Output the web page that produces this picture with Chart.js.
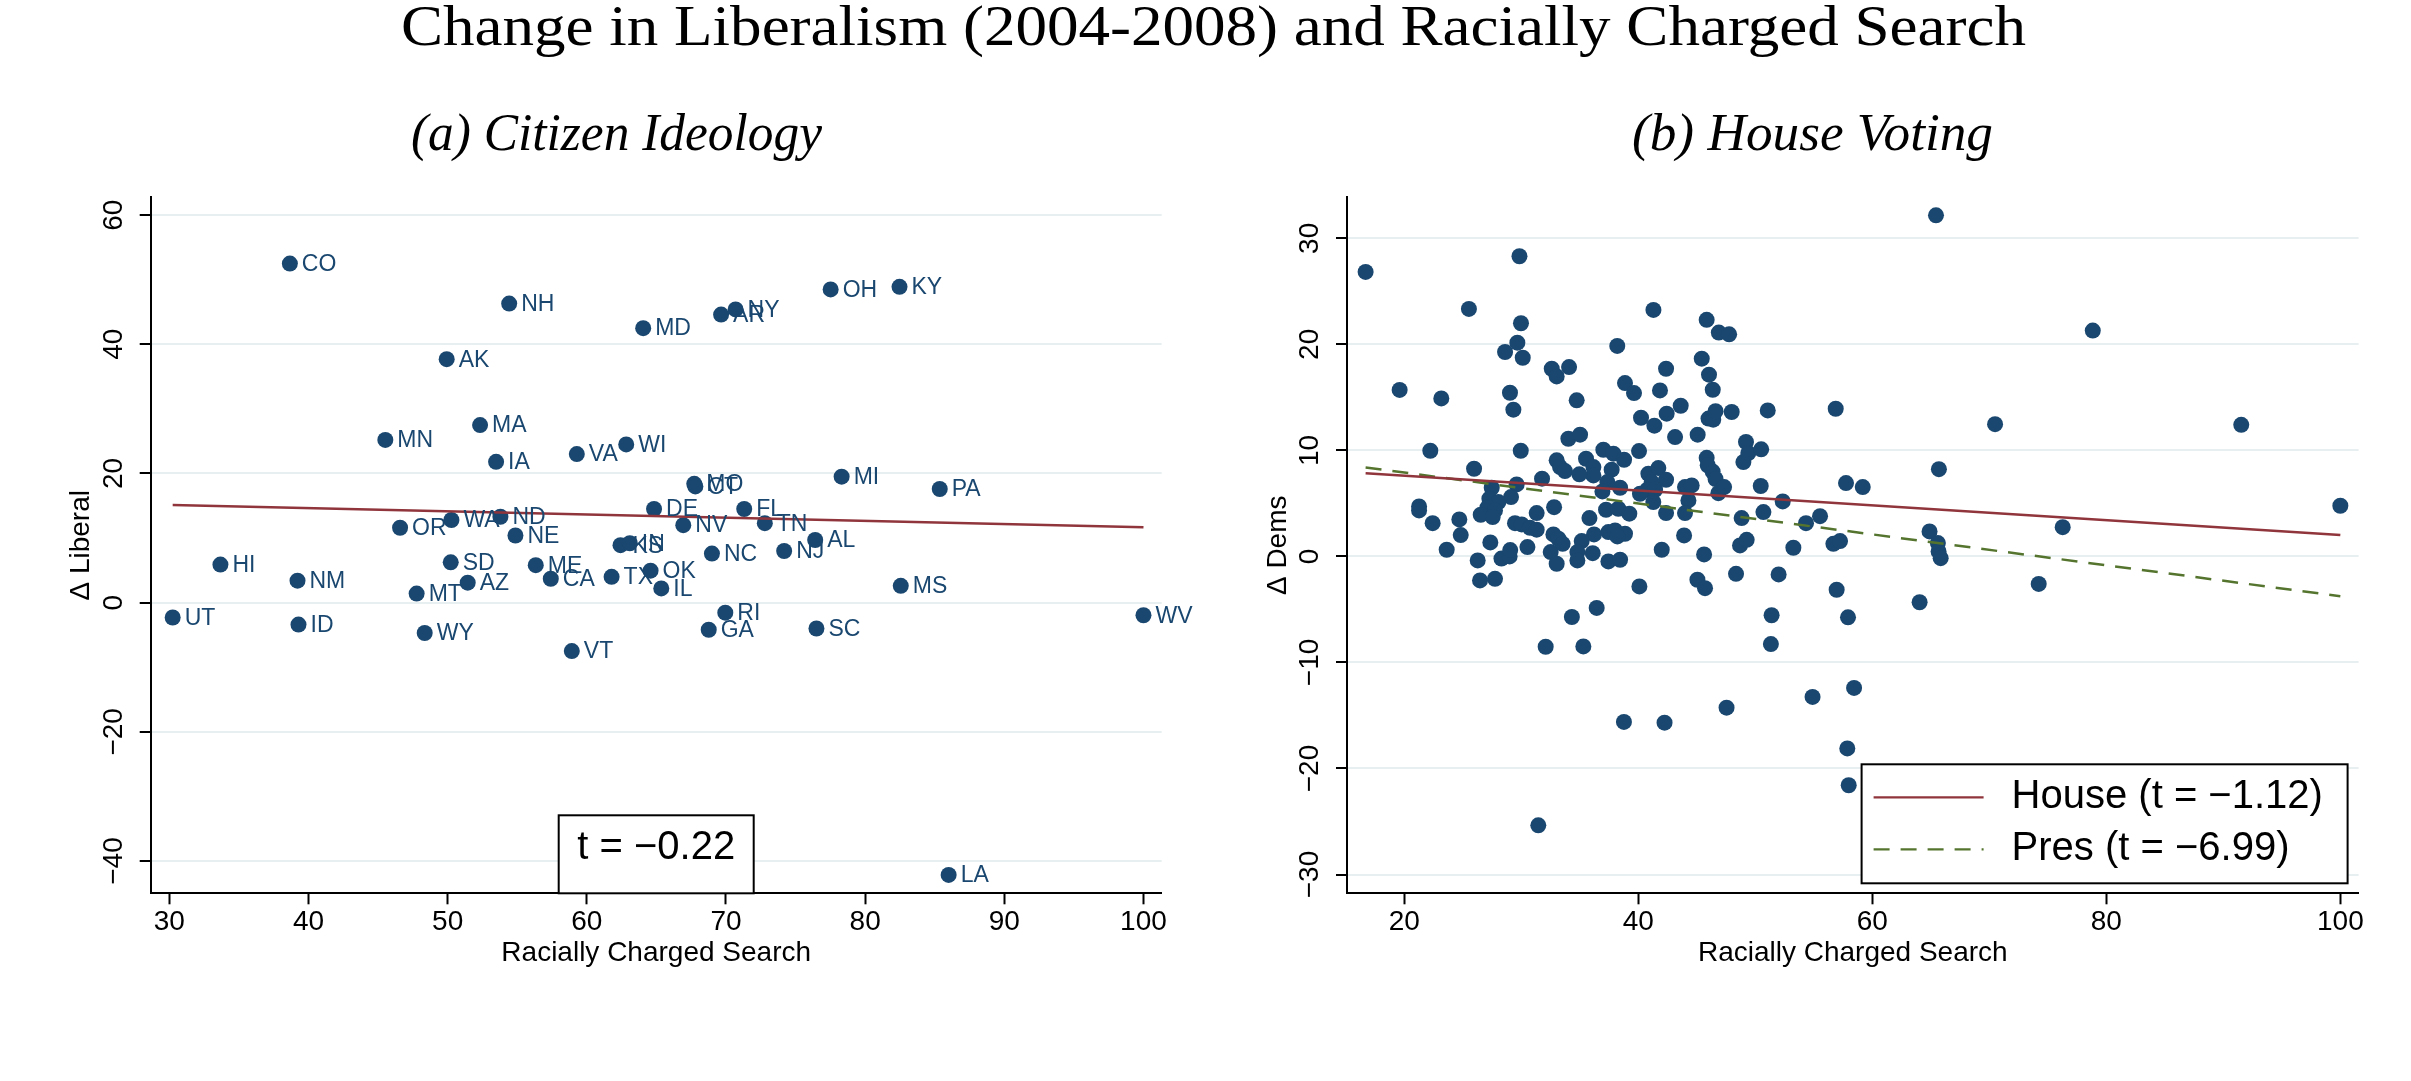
<!DOCTYPE html>
<html><head><meta charset="utf-8">
<script src="https://cdn.jsdelivr.net/npm/chart.js@4.4.1/dist/chart.umd.min.js"></script>
<style>
html,body{margin:0;padding:0;background:#fff;}
#wrap{position:relative;width:2411px;height:1081px;overflow:hidden;background:#fff;}
canvas{position:absolute;top:0;}
.ttl{position:absolute;white-space:nowrap;font-family:"Liberation Serif","DejaVu Serif",serif;color:#000;line-height:1;transform-origin:0 0;}
</style></head><body>
<div id="wrap">
<canvas id="cL" style="left:0;width:1205px;height:1081px" width="1205" height="1081"></canvas>
<canvas id="cR" style="left:1205px;width:1206px;height:1081px" width="1206" height="1081"></canvas>
<div class="ttl" id="tMain">Change in Liberalism (2004-2008) and Racially Charged Search</div>
<div class="ttl" id="tA" style="font-style:italic">(a) Citizen Ideology</div>
<div class="ttl" id="tB" style="font-style:italic">(b) House Voting</div>
</div>
<script>
// ---------------- DATA ----------------
// Panel (a): states
const stateLabels = ['CO','NH','MD','AK','MA','MN','IA','VA','WI','OR','WA','ND','NE','KS','IN','AR','NY','OH','KY','MO','CT','DE','FL','NV','TN','MI','PA','AL','NC','NJ','HI','NM','SD','ME','CA','TX','AZ','MT','UT','ID','WY','VT','OK','IL','RI','GA','SC','MS','WV','LA'];
const stateSearch = [38.66,54.42,64.05,49.93,52.33,45.52,53.48,59.28,62.83,46.58,50.27,53.79,54.87,62.42,63.09,69.65,70.69,77.52,82.47,67.72,67.8,64.83,71.31,66.93,72.79,78.31,85.36,76.41,68.99,74.18,33.67,39.21,50.22,56.33,57.41,61.78,51.44,47.77,30.24,39.28,48.35,58.92,64.58,65.35,69.95,68.76,76.5,82.56,100,86.0];
const stateLiberal = [52.5,46.3,42.5,37.7,27.5,25.2,21.8,23.0,24.5,11.6,12.8,13.3,10.4,8.9,9.2,44.6,45.4,48.5,48.9,18.4,18.0,14.5,14.5,12.0,12.3,19.5,17.6,9.7,7.6,8.0,5.9,3.4,6.25,5.8,3.7,4.0,3.1,1.4,-2.3,-3.4,-4.7,-7.5,4.95,2.2,-1.55,-4.2,-4.0,2.6,-1.95,-42.15];
const leftFitX = [30.24, 100];
const leftFitY = [15.12, 11.67];
const leftXTicks = [30,40,50,60,70,80,90,100];
const leftYTicks = [-40,-20,0,20,40,60];
const leftTText = 't = \u22120.22';

// Panel (b): districts
const distSearch = [16.69,19.6,25.52,29.84,29.97,41.29,45.84,46.88,47.76,38.2,
65.44,78.84,70.49,91.53,65.69,64.89,65.6,65.66,65.84,76.27,100.0,
36.44,34.32,51.39,32.08,35.3,51.33,38.77,42.24,47.54,54.89,31.45,
57.92,64.04,74.22,58.44,57.86,57.98,
29.66,28.61,30.12,32.6,33.02,23.16,29.03,29.32,22.22,29.95,25.96,33.02,33.31,33.73,31.77,29.6,27.47,29.12,32.8,31.31,21.26,21.26,22.42,24.7,24.82,23.62,27.27,28.04,27.1,27.75,26.53,27.55,29.46,30.03,30.74,31.31,27.35,26.27,26.47,27.75,28.3,29.0,29.05,30.52,32.74,33.17,32.51,33.02,
34.08,34.73,38.86,39.63,42.37,41.85,45.42,46.04,46.36,40.23,41.37,42.42,43.62,43.14,45.07,46.0,46.4,46.6,34.02,35.02,37.01,37.87,38.78,40.06,35.53,36.16,36.16,34.96,37.72,37.35,36.93,38.44,40.86,41.71,42.37,41.14,40.77,41.43,40.14,41.28,43.99,44.56,44.28,43.99,45.84,45.93,46.35,46.6,46.84,37.24,38.29,39.23,35.82,42.37,37.44,38.01,38.86,38.21,36.21,33.53,35.16,34.79,34.79,36.1,37.44,38.44,42.0,43.91,45.62,40.09,45.05,45.7,
47.98,51.06,56.87,49.2,49.4,48.98,50.5,47.33,50.46,52.34,50.69,48.83,54.33,55.53,57.75,59.18,48.69,49.26,53.25,56.67,57.24,48.35,51.99,56.95];
const distDems = [26.83,15.7,23.34,28.31,21.99,23.25,22.31,21.11,20.95,19.85,
32.17,21.3,12.47,12.41,8.23,2.36,1.26,0.47,-0.16,2.76,4.78,
-4.86,-5.71,-5.55,-8.52,-8.49,-8.27,-15.61,-15.68,-14.26,-13.25,-25.36,
-5.74,-4.32,-2.59,-12.4,-18.11,-21.58,
20.16,19.28,18.74,17.7,16.98,14.9,15.44,13.84,9.97,9.97,8.27,9.06,8.43,8.05,7.33,6.79,6.48,5.6,4.65,4.09,4.72,4.34,3.14,3.49,2.01,0.63,5.44,5.13,4.59,4.34,3.93,3.71,3.14,3.02,2.7,2.52,1.32,-0.38,-2.26,-2.11,-0.2,0.0,0.6,0.88,2.08,1.67,0.41,-0.69,
17.86,14.72,16.35,15.41,17.7,15.66,18.65,17.14,15.72,13.08,12.33,13.46,14.21,11.26,11.48,13.0,12.9,13.7,11.1,11.48,10.06,9.69,9.12,9.94,9.21,8.43,7.64,7.74,8.18,7.01,6.13,6.48,7.8,8.33,7.23,7.01,6.29,6.29,5.91,5.13,6.54,6.7,5.28,4.09,9.3,8.6,8.0,7.3,5.97,4.4,4.5,4.03,3.62,4.09,2.3,2.45,2.14,1.89,2.08,1.19,1.45,0.41,-0.38,0.31,-0.47,-0.31,0.63,1.98,0.19,-2.83,-2.2,-2.99,
13.62,13.77,13.93,10.79,9.75,8.9,10.1,6.54,6.64,5.19,4.18,3.62,3.14,3.8,6.92,6.54,1.04,1.57,0.82,1.19,1.45,-1.64,-1.7,-3.14];
const houseFitX = [16.69, 100];
const houseFitY = [7.85, 2.01];
const presFitX = [16.69, 100];
const presFitY = [8.39, -3.75];
const rightXTicks = [20,40,60,80,100];
const rightYTicks = [-30,-20,-10,0,10,20,30];
const legendLabels = ['House (t = \u22121.12)', 'Pres (t = \u22126.99)'];

// ---------------- STYLE ----------------
const NAVY = '#1a476f', MAROON = '#90353b', GREEN = '#55752f', GRID = '#e8eff1';
const SANS = '"Liberation Sans", Arial, sans-serif';

function fmt(v){ return String(v).replace('-', '\u2212'); }
function pts(xs, ys){ return xs.map((x,i)=>({x:x, y:ys[i]})); }

function axes(o){
  return {
    x:{
      type:'linear', min:o.xmin, max:o.xmax,
      afterBuildTicks: s => { s.ticks = o.xticks.map(v=>({value:v})); },
      afterFit: s => { s.height = o.xAxisH; },
      grid:{display:true, drawOnChartArea:false, drawTicks:true, tickLength:11, tickColor:'#000', tickWidth:2},
      border:{display:true, color:'#000', width:2},
      ticks:{color:'#000', font:{family:SANS, size:28}, padding:1, minRotation:0, maxRotation:0, autoSkip:false, callback:v=>fmt(v)},
      title:{display:true, text:o.xtitle, color:'#000', font:{family:SANS, size:28}, padding:{top:0, bottom:111}}
    },
    y:{
      type:'linear', min:o.ymin, max:o.ymax,
      afterBuildTicks: s => { s.ticks = o.yticks.map(v=>({value:v})); },
      afterFit: s => { s.width = o.yAxisW; },
      grid:{display:true, color:GRID, lineWidth:2, drawTicks:true, tickLength:11, tickColor:'#000', tickWidth:2},
      border:{display:true, color:'#000', width:2},
      ticks:{color:'#000', font:{family:SANS, size:28}, padding:2, minRotation:90, maxRotation:90, crossAlign:'center', autoSkip:false, callback:v=>fmt(v)},
      title:{display:true, text:o.ytitle, color:'#000', font:{family:SANS, size:28}, padding:{top:o.yTitlePad, bottom:0}}
    }
  };
}

const commonOpts = {responsive:false, animation:false, events:[], devicePixelRatio:1,
  plugins:{legend:{display:false}, tooltip:{enabled:false}, title:{display:false}}};

// state labels
const stateLabelPlugin = {
  id:'stateLabelPlugin',
  afterDatasetsDraw(chart){
    const meta = chart.getDatasetMeta(1);
    const ctx = chart.ctx;
    ctx.save();
    ctx.font = '23px ' + SANS;
    ctx.fillStyle = NAVY; ctx.textBaseline = 'middle'; ctx.textAlign = 'left';
    meta.data.forEach((p,i)=>{ ctx.fillText(stateLabels[i], p.x + 12, p.y + 1); });
    ctx.restore();
  }
};
const tBoxPlugin = {
  id:'tBoxPlugin',
  afterDraw(chart){
    const ca = chart.chartArea, ctx = chart.ctx;
    const w = 195, h = 78, cx = (ca.left + ca.right)/2;
    ctx.save();
    ctx.fillStyle = '#fff'; ctx.fillRect(cx - w/2, ca.bottom - h, w, h);
    ctx.strokeStyle = '#000'; ctx.lineWidth = 2; ctx.strokeRect(cx - w/2, ca.bottom - h, w, h);
    ctx.font = '40px ' + SANS; ctx.fillStyle = '#000'; ctx.textAlign = 'center'; ctx.textBaseline = 'middle';
    ctx.fillText(leftTText, cx, ca.bottom - 45);
    ctx.restore();
  }
};
const legendBoxPlugin = {
  id:'legendBoxPlugin',
  afterDraw(chart){
    const ca = chart.chartArea, ctx = chart.ctx;
    const bw = 486, bh = 119;
    const bx = ca.right - 11 - bw, by = ca.bottom - 10 - bh;
    ctx.save();
    ctx.fillStyle = '#fff'; ctx.fillRect(bx, by, bw, bh);
    ctx.strokeStyle = '#000'; ctx.lineWidth = 2; ctx.strokeRect(bx, by, bw, bh);
    const rows = [by + 33, by + 85];
    const ds = chart.data.datasets;
    [0,1].forEach(k=>{
      const d = ds[k];
      ctx.beginPath();
      ctx.strokeStyle = d.borderColor; ctx.lineWidth = 2.2;
      ctx.setLineDash(d.borderDash || []);
      ctx.moveTo(bx + 12, rows[k]); ctx.lineTo(bx + 122, rows[k]); ctx.stroke();
      ctx.setLineDash([]);
      ctx.font = '40px ' + SANS; ctx.fillStyle = '#000'; ctx.textAlign = 'left'; ctx.textBaseline = 'middle';
      ctx.fillText(legendLabels[k], bx + 150, rows[k]);
    });
    ctx.restore();
  }
};

new Chart(document.getElementById('cL'), {
  type:'scatter',
  data:{datasets:[
    {label:'fit', data:pts(leftFitX, leftFitY), showLine:true, borderColor:MAROON, borderWidth:2.5, pointRadius:0, order:0},
    {label:'states', data:pts(stateSearch, stateLiberal), pointRadius:8, pointBackgroundColor:NAVY, pointBorderWidth:0, order:1}
  ]},
  options:Object.assign({}, commonOpts, {
    layout:{padding:{left:0, right:43.3, top:197.3, bottom:0}},
    scales:axes({xmin:28.66, xmax:101.31, xticks:leftXTicks, ymin:-45, ymax:62.76, yticks:leftYTicks,
      xtitle:'Racially Charged Search', ytitle:'\u0394 Liberal', xAxisH:187.7, yAxisW:150.7, yTitlePad:64.9})
  }),
  plugins:[tBoxPlugin, stateLabelPlugin]
});

new Chart(document.getElementById('cR'), {
  type:'scatter',
  data:{datasets:[
    {label:'House', data:pts(houseFitX, houseFitY), showLine:true, borderColor:MAROON, borderWidth:2.5, pointRadius:0, order:0},
    {label:'Pres', data:pts(presFitX, presFitY), showLine:true, borderColor:GREEN, borderWidth:2.5, borderDash:[16,11], pointRadius:0, order:0},
    {label:'districts', data:pts(distSearch, distDems), pointRadius:8, pointBackgroundColor:NAVY, pointBorderWidth:0, order:1}
  ]},
  options:Object.assign({}, commonOpts, {
    layout:{padding:{left:0, right:52.4, top:197.3, bottom:0}},
    scales:axes({xmin:15.1, xmax:101.56, xticks:rightXTicks, ymin:-31.77, ymax:33.87, yticks:rightYTicks,
      xtitle:'Racially Charged Search', ytitle:'\u0394 Dems', xAxisH:187.7, yAxisW:142, yTitlePad:56.2})
  }),
  plugins:[legendBoxPlugin]
});

// ---------------- TITLES ----------------
function place(id, fs, left, right, baseline){
  const el = document.getElementById(id);
  el.style.fontSize = fs + 'px';
  el.style.left = left + 'px';
  el.style.top = (baseline - 0.8375*fs) + 'px';
  const w = el.getBoundingClientRect().width;
  el.style.transform = 'scaleX(' + ((right - left)/w).toFixed(4) + ')';
}
place('tMain', 56, 401, 2026, 45);
place('tA', 52, 411, 822, 151);
place('tB', 52, 1632, 1993, 151);
</script>
</body></html>
